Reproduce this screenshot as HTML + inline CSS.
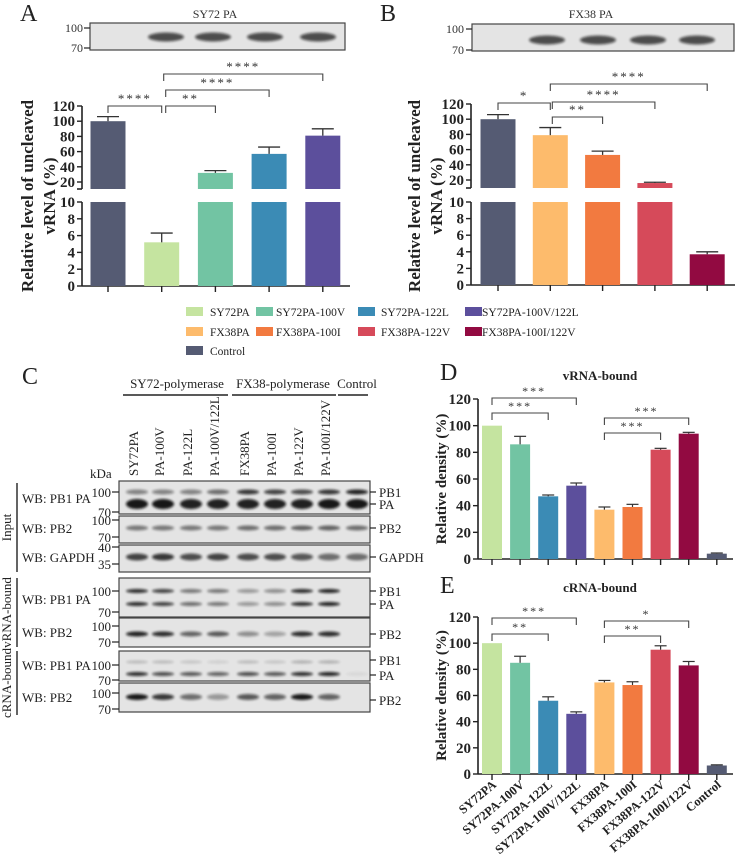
<!DOCTYPE html>
<html><head><meta charset="utf-8">
<style>
body{margin:0;background:#fff;}
svg{display:block;font-family:"Liberation Serif",serif;}
</style></head>
<body>
<svg id="fig" width="735" height="860" viewBox="0 0 735 860">
<defs>
<filter id="blur" x="-20%" y="-100%" width="140%" height="300%"><feGaussianBlur stdDeviation="1.3"/></filter>
</defs>
<g id="root"></g>
</svg>
<script>
// ---------- DATA ----------
const colorsA = ["#555b73","#c5e4a0","#72c4a3","#3b8bb5","#5c4f9c"];
const valuesA = [100, 5.2, 32, 57, 81];
const errorsA = [6, 1.1, 3, 9, 9];
const colorsB = ["#555b73","#fdbb6c","#f27a40","#d64a5a","#920a41"];
const valuesB = [100, 79, 53, 16, 3.7];
const errorsB = [6, 10, 5, 1, 0.3];
const upperTicks = [20, 40, 60, 80, 100, 120];
const lowerTicks = [0, 2, 4, 6, 8, 10];
const categoriesDE = ["SY72PA","SY72PA-100V","SY72PA-122L","SY72PA-100V/122L","FX38PA","FX38PA-100I","FX38PA-122V","FX38PA-100I/122V","Control"];
const colorsDE = ["#c5e4a0","#72c4a3","#3b8bb5","#5c4f9c","#fdbb6c","#f27a40","#d64a5a","#920a41","#555b73"];
const valuesD = [100, 86, 47, 55, 37, 39, 82, 94, 4];
const errorsD = [0, 6, 1, 2, 2, 2, 1, 1, 0.5];
const valuesE = [100, 85, 56, 46, 70, 68, 95, 83, 6.5];
const errorsE = [0, 5, 3, 1.5, 1.5, 2.5, 3, 3, 0.5];
const ticksDE = [0, 20, 40, 60, 80, 100, 120];

const NS = "http://www.w3.org/2000/svg";
const root = document.getElementById("root");
function el(tag, attrs, parent, txt){
  const e = document.createElementNS(NS, tag);
  for (const k in attrs) e.setAttribute(k, attrs[k]);
  if (txt !== undefined) e.textContent = txt;
  (parent || root).appendChild(e);
  return e;
}
function line(x1,y1,x2,y2,w,c,p){ return el("line",{x1,y1,x2,y2,stroke:c||"#222","stroke-width":w||1.2},p); }

// ---------- broken-axis panels A/B ----------
function brokenPanel(cfg){
  const g = el("g",{});
  
  
  const ax = cfg.ax;
  const yU = v => cfg.u20 - (v-20)*(cfg.u20-cfg.u120)/100;
  const yL = v => cfg.l0 - v*(cfg.l0-cfg.l10)/10;
  const segBottom = cfg.segBottom;
  line(ax, cfg.u120, ax, segBottom, 1.6, "#222", g);
  line(ax-5, segBottom, ax, segBottom, 1.6, "#222", g);
  line(ax, cfg.l10, ax, cfg.l0, 1.6, "#222", g);
  line(ax, cfg.l0, cfg.axEnd, cfg.l0, 1.6, "#222", g);
  upperTicks.forEach(t=>{
    line(ax-5, yU(t), ax, yU(t), 1.4, "#222", g);
    const tx = el("text",{x:ax-7,y:yU(t)+5,"text-anchor":"end","font-size":"15","font-weight":"bold",fill:"#222"},g,String(t));
    
    
  });
  lowerTicks.forEach(t=>{
    line(ax-5, yL(t), ax, yL(t), 1.4, "#222", g);
    const tx = el("text",{x:ax-7,y:yL(t)+5,"text-anchor":"end","font-size":"15","font-weight":"bold",fill:"#222"},g,String(t));
    
    
  });
  const bw = 35;
  cfg.values.forEach((v,i)=>{
    const cx = cfg.x0 + i*cfg.dx;
    line(cx, cfg.l0, cx, cfg.l0+6, 1.4, "#222", g);
    const lowTop = yL(Math.min(v,10));
    const b = el("rect",{x:cx-bw/2,y:lowTop,width:bw,height:cfg.l0-lowTop,fill:cfg.colors[i]},g);
    
    
    let topY = lowTop;
    if (v > 10.8){
      topY = yU(v);
      const bu = el("rect",{x:cx-bw/2,y:topY,width:bw,height:segBottom-topY,fill:cfg.colors[i]},g);
      
      
    }
    const ev = v + cfg.errors[i];
    const ey = v > 10.8 ? yU(ev) : yL(ev);
    line(cx, topY, cx, ey, 1.3, "#333", g);
    line(cx-11, ey, cx+11, ey, 1.3, "#333", g);
  });
  const lab = el("text",{transform:`translate(${cfg.labX},${cfg.labY}) rotate(-90)`,"text-anchor":"middle","font-size":"17","font-weight":"bold",fill:"#222"},g);
  
  
  el("tspan",{x:0,dy:0},lab,"Relative level of uncleaved");
  el("tspan",{x:0,dy:22},lab,"vRNA (%)");
  cfg.brackets.forEach(b=>{
    const x1 = cfg.x0 + b[0]*cfg.dx + (b[3]||0), x2 = cfg.x0 + b[1]*cfg.dx;
    const y = b[2];
    const p = el("path",{d:`M${x1},${y+7}V${y}H${x2}V${y+7}`,fill:"none",stroke:"#444","stroke-width":1.1},g);
    
    
    el("text",{x:(x1+x2)/2,y:y-3,"text-anchor":"middle","font-size":"13","letter-spacing":"2",fill:"#333"},g,b[4]);
  });
}
brokenPanel({name:"panel-a-chart",ax:82,axEnd:350,u120:106,u20:182,segBottom:189,l10:202,l0:286,x0:108,dx:53.7,
  values:valuesA,errors:errorsA,colors:colorsA,labX:33,labY:196,
  brackets:[[0,1,106,0,"****"],[1,2,106,4,"**"],[1,3,90,4,"****"],[1,4,74,2,"****"]]});
brokenPanel({name:"panel-b-chart",ax:471,axEnd:735,u120:104,u20:180,segBottom:188,l10:202,l0:285,x0:498,dx:52.3,
  values:valuesB,errors:errorsB,colors:colorsB,labX:420,labY:196,
  brackets:[[0,1,103,0,"*"],[1,2,117,2,"**"],[1,3,102,2,"****"],[1,4,84,0,"****"]]});

[["A",20,21],["B",380,21],["C",22,384],["D",440,380],["E",440,593]].forEach(l=>{
  const t = el("text",{x:l[1],y:l[2],"font-size":"24",fill:"#222"},root,l[0]);
  
  
});
el("text",{x:215,y:18,"text-anchor":"middle","font-size":"12",fill:"#333"},root,"SY72 PA");
el("text",{x:591,y:18,"text-anchor":"middle","font-size":"12",fill:"#333"},root,"FX38 PA");

// ---------- blots ----------
function blotBox(x,y,w,h,name){
  const r = el("rect",{x,y,width:w,height:h,fill:"#e4e4e4",stroke:"#444","stroke-width":1.2});
  
  
}
function band(cx,cy,w,h,op){
  el("ellipse",{cx,cy,rx:w/2,ry:h/2,fill:"#111",opacity:op,filter:"url(#blur)"});
}
blotBox(90,23,255,27,"blot-a");
[166,213,265,318].forEach(x=>band(x,37,36,9,0.7));
el("text",{x:83,y:32,"text-anchor":"end","font-size":"12",fill:"#333"},root,"100");
el("text",{x:83,y:52,"text-anchor":"end","font-size":"12",fill:"#333"},root,"70");
line(84,28,90,28,1.2); line(84,48,90,48,1.2);
blotBox(472,24,262,27,"blot-b");
[547,598,648,697].forEach(x=>band(x,40,36,9,0.7));
el("text",{x:464,y:33,"text-anchor":"end","font-size":"12",fill:"#333"},root,"100");
el("text",{x:464,y:54,"text-anchor":"end","font-size":"12",fill:"#333"},root,"70");
line(466,29,472,29,1.2); line(466,50,472,50,1.2);

// ---------- legend ----------
const legendItems = [
  [186,210,312,0],[256,276,312,1],[358,381,312,2],[465,482,312,3],
  [186,210,332,4],[256,276,332,5],[358,381,332,6],[465,482,332,7],
  [186,210,351,8]];
legendItems.forEach(li=>{
  const g = el("g",{});
  
  
  el("rect",{x:li[0],y:li[2]-5,width:17,height:9,fill:colorsDE[li[3]]},g);
  el("text",{x:li[1],y:li[2]+4,"font-size":"11.5",fill:"#222"},g,categoriesDE[li[3]]);
});

// ---------- panel C ----------
[["SY72-polymerase",177,123,228],["FX38-polymerase",283,232,336],["Control",357,338,368]].forEach(h=>{
  el("text",{x:h[1],y:388,"text-anchor":"middle","font-size":"13",fill:"#222"},root,h[0]);
  line(h[2],395,h[3],395,1.4);
});
const laneX = [137,163,191,218,248,275,302,329,357];
const laneLabels = ["SY72PA","PA-100V","PA-122L","PA-100V/122L","FX38PA","PA-100I","PA-122V","PA-100I/122V"];
laneLabels.forEach((t,i)=>{
  const tx = el("text",{transform:`translate(${laneX[i]+1},476) rotate(-90)`,"font-size":"13",fill:"#222"},root,t);
  
  
});
el("text",{x:90,y:478,"font-size":"13",fill:"#222"},root,"kDa");
const blots = [
  {y:481,h:33,markers:[["100",492],["70",512]],bands:[[492,5,[.45,.45,.45,.55,.8,.75,.7,.8,.9]],[504,10,[.95,.95,.9,.9,.9,.9,.9,.95,.95]]],right:[["PB1",492],["PA",504]],label:"WB: PB1 PA",ly:503},
  {y:516,h:27,markers:[["100",520],["70",537]],bands:[[528,5,[.5,.5,.5,.5,.55,.55,.6,.6,.55]]],right:[["PB2",528]],label:"WB: PB2",ly:533},
  {y:545,h:27,markers:[["40",547],["35",564]],bands:[[557,7,[.75,.8,.7,.75,.7,.7,.65,.55,.55]]],right:[["GAPDH",557]],label:"WB: GAPDH",ly:562},
  {y:578,h:39,markers:[["100",591],["70",612]],bands:[[591,4,[.85,.75,.5,.5,.35,.4,.85,.9,0]],[604,4,[.85,.75,.55,.5,.35,.4,.85,.9,0]]],right:[["PB1",591],["PA",604]],label:"WB: PB1 PA",ly:604},
  {y:618,h:29,markers:[["100",626],["70",642]],bands:[[634,5,[.9,.85,.6,.65,.4,.3,.85,.85,0]]],right:[["PB2",634]],label:"WB: PB2",ly:637},
  {y:651,h:30,markers:[["100",665],["70",680]],bands:[[662,3,[.2,.2,.15,.1,.2,.15,.25,.25,0]],[674,4,[.85,.7,.65,.6,.7,.65,.85,.9,.05]]],right:[["PB1",660],["PA",675]],label:"WB: PB1 PA",ly:670},
  {y:683,h:29,markers:[["100",693],["70",709]],bands:[[697,6,[.95,.8,.55,.35,.65,.6,.95,.6,0]]],right:[["PB2",700]],label:"WB: PB2",ly:702}
];
blots.forEach((b,bi)=>{
  blotBox(119,b.y,251,b.h,"blot-c-"+(bi+1));
  b.bands.forEach(bd=>bd[2].forEach((op,i)=>{ if(op>0) band(laneX[i],bd[0],22,bd[1],op); }));
  b.markers.forEach(m=>{
    el("text",{x:111,y:m[1]+5,"text-anchor":"end","font-size":"13",fill:"#222"},root,m[0]);
    line(112,m[1],119,m[1],1.2);
  });
  b.right.forEach(r=>{
    line(370,r[1],376,r[1],1.2);
    el("text",{x:379,y:r[1]+5,"font-size":"13",fill:"#222"},root,r[0]);
  });
  el("text",{x:22,y:b.ly,"font-size":"13",fill:"#222"},root,b.label);
});
[["Input",483,572],["vRNA-bound",578,647],["cRNA-bound",651,715]].forEach(s=>{
  line(17,s[1],17,s[2],1.4);
  const t = el("text",{transform:`translate(11,${(s[1]+s[2])/2}) rotate(-90)`,"text-anchor":"middle","font-size":"13",fill:"#222"},root,s[0]);
  
  
});

// ---------- panels D/E ----------
function simplePanel(cfg){
  const g = el("g",{});
  
  
  const ax = 478, x0 = 492, dx = 28.1, bw = 20;
  const y = v => cfg.y0 - v*(cfg.y0-cfg.y120)/120;
  line(ax, cfg.y120, ax, cfg.y0, 1.6, "#222", g);
  line(ax, cfg.y0, 733, cfg.y0, 1.6, "#222", g);
  ticksDE.forEach(t=>{
    line(ax-5,y(t),ax,y(t),1.4,"#222",g);
    const tx = el("text",{x:ax-7,y:y(t)+5,"text-anchor":"end","font-size":"15","font-weight":"bold",fill:"#222"},g,String(t));
    
    
  });
  cfg.values.forEach((v,i)=>{
    const cx = x0 + i*dx;
    line(cx,cfg.y0,cx,cfg.y0+6,1.4,"#222",g);
    const b = el("rect",{x:cx-bw/2,y:y(v),width:bw,height:cfg.y0-y(v),fill:colorsDE[i]},g);
    
    
    if (cfg.errors[i] > 0){
      const ey = y(v+cfg.errors[i]);
      line(cx,y(v),cx,ey,1.2,"#333",g);
      line(cx-6,ey,cx+6,ey,1.2,"#333",g);
    }
    if (cfg.xlabels){
      const tx = el("text",{transform:`translate(${cx+5},${cfg.y0+12}) rotate(-40)`,"text-anchor":"end","font-size":"12.5","font-weight":"bold",fill:"#222"},g,categoriesDE[i]);
      
      
    }
  });
  const lab = el("text",{transform:`translate(446,${(cfg.y0+cfg.y120)/2}) rotate(-90)`,"text-anchor":"middle","font-size":"15","font-weight":"bold",fill:"#222"},g,"Relative density (%)");
  
  
  const tt = el("text",{x:600,y:cfg.titleY,"text-anchor":"middle","font-size":"13","font-weight":"bold",fill:"#222"},g,cfg.title);
  
  
  cfg.brackets.forEach(b=>{
    const x1 = x0+b[0]*dx, x2 = x0+b[1]*dx, yy=b[2];
    const p = el("path",{d:`M${x1},${yy+7}V${yy}H${x2}V${yy+7}`,fill:"none",stroke:"#444","stroke-width":1.1},g);
    
    
    el("text",{x:(x1+x2)/2,y:yy-3,"text-anchor":"middle","font-size":"12","letter-spacing":"2",fill:"#333"},g,b[3]);
  });
}
simplePanel({name:"panel-d-chart",y0:559,y120:399,values:valuesD,errors:errorsD,title:"vRNA-bound",titleY:380,
  brackets:[[0,2,413,"***"],[0,3,398,"***"],[4,6,433,"***"],[4,7,418,"***"]]});
simplePanel({name:"panel-e-chart",y0:774,y120:617,values:valuesE,errors:errorsE,title:"cRNA-bound",titleY:592,xlabels:true,
  brackets:[[0,2,634,"**"],[0,3,618,"***"],[4,6,636,"**"],[4,7,621,"*"]]});
</script>
</body></html>
